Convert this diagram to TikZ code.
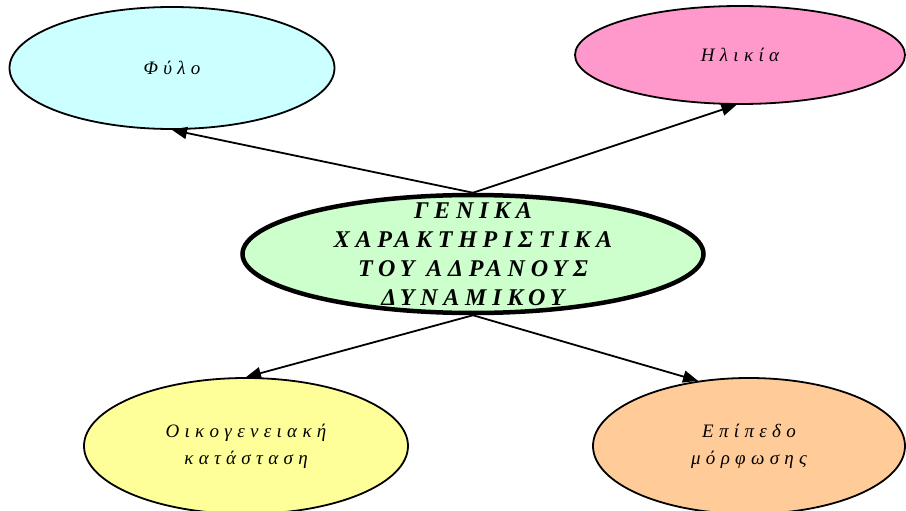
\documentclass[tikz,border=0pt]{standalone}
\usepackage{fontspec}
\setmainfont{Liberation Serif}
\newfontfamily\grsmall[LetterSpace=28]{Liberation Serif}
\newfontfamily\grbig[LetterSpace=24]{Liberation Serif}
\usetikzlibrary{shapes.geometric,arrows.meta}
\definecolor{cphi}{HTML}{CCFFFF}
\definecolor{chl}{HTML}{FF99CC}
\definecolor{cmid}{HTML}{CCFFCC}
\definecolor{coik}{HTML}{FFFF99}
\definecolor{cepi}{HTML}{FFCC99}
\begin{document}
\begin{tikzpicture}[x=1pt,y=-1pt,
  leaf/.style={ellipse,draw=black,line width=1.8pt,inner sep=0pt},
  leaftext/.style={inner sep=0pt,align=center,
    font=\grsmall\itshape\fontsize{19}{27}\selectfont},
  hub/.style={ellipse,draw=black,line width=4.5pt,inner sep=0pt,fill=cmid},
  hubtext/.style={inner sep=0pt,align=center,
    font=\grbig\itshape\bfseries\fontsize{24}{29}\selectfont},
  link/.style={line width=1.8pt,-{Triangle[length=15pt,width=12pt]}}]
\useasboundingbox (0,0) rectangle (906,511);
\node[hub,minimum width=461pt,minimum height=118pt] (c) at (473,254) {};
\node[hubtext] (ct) at (c.center)
  {ΓΕΝΙΚΑ\\ΧΑΡΑΚΤΗΡΙΣΤΙΚΑ\\ΤΟΥ ΑΔΡΑΝΟΥΣ\\ΔΥΝΑΜΙΚΟΥ};
\node[leaf,fill=cphi,minimum width=325pt,minimum height=122pt] (phi) at (172,68) {};
\node[leaftext] (phit) at (phi.center) {Φύλο};
\node[leaf,fill=chl,minimum width=330pt,minimum height=98pt] (hl) at (740,55) {};
\node[leaftext] (hlt) at (hl.center) {Ηλικία};
\node[leaf,fill=coik,minimum width=324pt,minimum height=136pt] (oik) at (246,446) {};
\node[leaftext] (oikt) at (oik.center) {Οικογενειακή\\κατάσταση};
\node[leaf,fill=cepi,minimum width=312pt,minimum height=136pt] (epi) at (749,446) {};
\node[leaftext] (epit) at (epi.center) {Επίπεδο\\μόρφωσης};
\draw[link] (c.north) -- (phi.south);
\draw[link] (c.north) -- (hl.266);
\draw[link] (c.south) -- (oik.north);
\draw[link] (c.south) -- (epi.128);
\end{tikzpicture}
\end{document}
